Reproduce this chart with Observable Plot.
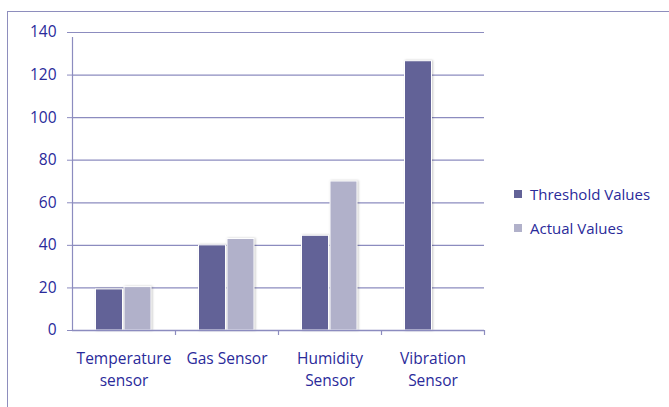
<!DOCTYPE html>
<html>
<head>
<meta charset="utf-8">
<script src="https://cdn.jsdelivr.net/npm/d3@7"></script>
<script src="https://cdn.jsdelivr.net/npm/@observablehq/plot@0.6"></script>
<style>
  html, body { margin: 0; padding: 0; background: #fff; }
  #wrap { position: relative; width: 669px; height: 407px; overflow: hidden; font-family: "Open Sans", Lato, sans-serif; }
  #border { position: absolute; left: 7px; top: 11px; width: 700px; height: 450px; border: 1.5px solid #8e8ebd; box-sizing: border-box; }
  #chart { position: absolute; left: 0; top: 0; }
  #legend { position: absolute; left: 514px; top: 184px; color: #2a2a9a; font-size: 15px; }
  #legend .item { display: flex; align-items: center; height: 20px; margin-bottom: 14px; }
  #legend .sw { width: 8px; height: 8px; margin-right: 8px; }
  g[aria-label="bar"] { filter: drop-shadow(1px 0px 1.2px rgba(0,0,0,0.22)); }
</style>
</head>
<body>
<div id="wrap">
  <div id="border"></div>
  <div id="chart"></div>
  <div id="legend"></div>
</div>
<script>
const categories = ["Temperature sensor", "Gas Sensor", "Humidity Sensor", "Vibration Sensor"];
const categoryLabels = ["Temperature\nsensor", "Gas Sensor", "Humidity\nSensor", "Vibration\nSensor"];
const seriesNames = ["Threshold Values", "Actual Values"];
const thresholdValues = [19.3, 40, 44.5, 126.5];
const actualValues = [20.4, 43, 70, null];
const yTicks = [0, 20, 40, 60, 80, 100, 120, 140];
const colors = ["#626297", "#b1b1ca"];

const W = 669, H = 407;
const mL = 72, mR = 185, mT = 32, mB = 77;
const step = (W - mL - mR) / categories.length;
const barW = 27;
const textColor = "#2a2a9a";
const gridColor = "#8c8cbf";

const thr = categories.map((c, i) => ({category: c, value: thresholdValues[i]}));
const act = categories.map((c, i) => ({category: c, value: actualValues[i]})).filter(d => d.value != null);
const labelOf = new Map(categories.map((c, i) => [c, categoryLabels[i]]));

const chart = Plot.plot({
  width: W, height: H,
  marginLeft: mL, marginRight: mR, marginTop: mT, marginBottom: mB,
  style: {fontFamily: "'Open Sans', Lato, sans-serif", fontSize: "15px", color: textColor, background: "transparent"},
  x: {domain: categories, padding: 0, label: null},
  y: {domain: [0, 140], label: null},
  marks: [
    Plot.ruleY(yTicks.filter(t => t > 0), {stroke: gridColor, strokeWidth: 1.2, strokeOpacity: 1}),
    Plot.barY(thr, {x: "category", y: "value", fill: colors[0], stroke: "#fff", strokeWidth: 1,
      insetLeft: 23.5, insetRight: step - 23.5 - barW}),
    Plot.barY(act, {x: "category", y: "value", fill: colors[1], stroke: "#fff", strokeWidth: 1,
      insetLeft: 23.5 + barW + 1.5, insetRight: step - 23.5 - 2 * barW - 1.5}),
    Plot.ruleY([0], {stroke: gridColor, strokeWidth: 1.5}),
    Plot.ruleX([categories[0]], {y1: 0, y2: 140, dx: -step / 2, stroke: gridColor, strokeWidth: 1.2, insetBottom: -5}),
    Plot.ruleX(categories.slice(1), {y1: 0, y2: 0, dx: -step / 2, stroke: gridColor, strokeWidth: 1.2, insetBottom: -5}),
    Plot.ruleX([categories[categories.length - 1]], {y1: 0, y2: 0, dx: step / 2, stroke: gridColor, strokeWidth: 1.2, insetBottom: -5}),
    Plot.axisY({ticks: yTicks, tickSize: 5, tickPadding: 11, stroke: gridColor, fill: textColor, fontSize: 15.5, label: null}),
    Plot.axisX({tickSize: 0, tickPadding: 18, fill: textColor, fontSize: 15.5, lineHeight: 1.42,
      tickFormat: d => labelOf.get(d), label: null})
  ]
});
document.getElementById("chart").appendChild(chart);

const legend = document.getElementById("legend");
seriesNames.forEach((name, i) => {
  const item = document.createElement("div");
  item.className = "item";
  const sw = document.createElement("div");
  sw.className = "sw";
  sw.style.background = colors[i];
  const t = document.createElement("span");
  t.textContent = name;
  item.appendChild(sw);
  item.appendChild(t);
  legend.appendChild(item);
});
</script>
</body>
</html>
